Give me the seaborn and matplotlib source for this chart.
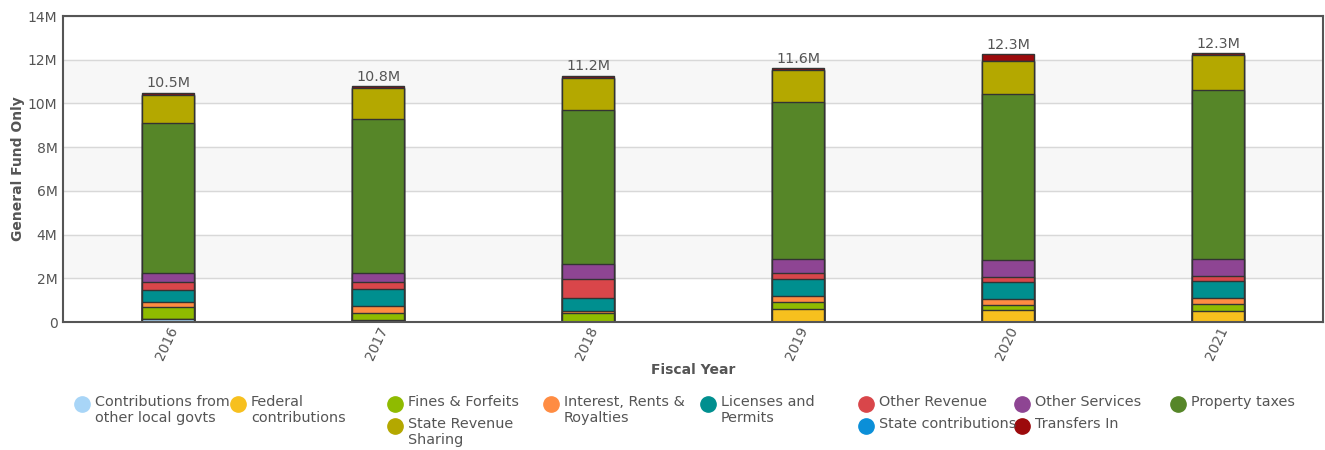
import matplotlib
matplotlib.use("Agg")
import matplotlib.pyplot as plt
import seaborn as sns
import numpy as np
import pandas as pd
from matplotlib.lines import Line2D

sns.set_theme(style="white")
plt.rcParams['font.family'] = ['DejaVu Sans']

years = ["2016", "2017", "2018", "2019", "2020", "2021"]
series_names = ["Contributions from\nother local govts", "Federal\ncontributions", "Fines & Forfeits",
                "Interest, Rents &\nRoyalties", "Licenses and\nPermits", "Other Revenue",
                "Other Services", "Property taxes", "State Revenue\nSharing",
                "State contributions", "Transfers In"]
contrib_local = [0.15, 0.0, 0.0, 0.0, 0.0, 0.0]
federal = [0.0, 0.10, 0.0, 0.58, 0.55, 0.52]
fines = [0.53, 0.33, 0.40, 0.35, 0.23, 0.31]
interest = [0.23, 0.30, 0.10, 0.27, 0.27, 0.29]
licenses = [0.56, 0.80, 0.61, 0.76, 0.79, 0.76]
other_rev = [0.35, 0.29, 0.86, 0.26, 0.23, 0.24]
other_serv = [0.41, 0.43, 0.69, 0.65, 0.76, 0.76]
property_tax = [6.87, 7.03, 7.05, 7.18, 7.58, 7.73]
state_rev_sharing = [1.28, 1.42, 1.46, 1.47, 1.52, 1.60]
state_contrib = [0.0, 0.0, 0.0, 0.0, 0.0, 0.0]
transfers_in = [0.12, 0.09, 0.08, 0.09, 0.32, 0.09]
total_labels = ["10.5M", "10.8M", "11.2M", "11.6M", "12.3M", "12.3M"]
y_ticks = [0, 2, 4, 6, 8, 10, 12, 14]
y_tick_labels = ["0", "2M", "4M", "6M", "8M", "10M", "12M", "14M"]

series = [contrib_local, federal, fines, interest, licenses, other_rev,
          other_serv, property_tax, state_rev_sharing, state_contrib, transfers_in]
colors = ["#a8d5f7", "#f7c01e", "#8fbb00", "#ff8c42", "#008f8f", "#d9464a",
          "#8e4593", "#568628", "#b4a800", "#0b8fd8", "#9c0a0c"]

fig = plt.figure(figsize=(13.25, 4.5), dpi=100)
ax = fig.add_axes([63/1325, 1 - 322/450, 1260/1325, 306/450])

# alternating bands and grid
for lo in (2, 6, 10):
    ax.axhspan(lo, lo + 2, color="#f7f7f7", zorder=0)
for t in y_ticks[1:]:
    ax.axhline(t, color="#d8d8d8", lw=1, zorder=0.5)

cum = np.cumsum(np.array(series), axis=0)
for i in range(len(series) - 1, -1, -1):
    df = pd.DataFrame({"year": years, "val": cum[i]})
    sns.barplot(data=df, x="year", y="val", color=colors[i], width=0.25,
                edgecolor="#333333", linewidth=1, saturation=1, ax=ax, zorder=2)

tot = cum[-1]
for k, lab in enumerate(total_labels):
    ax.text(k, tot[k] + 0.12, lab, ha="center", va="bottom", fontsize=10.3, color="#555555")

ax.set_xlim(-0.5, 5.5)
ax.set_ylim(0, 14)
ax.set_yticks(y_ticks)
ax.set_yticklabels(y_tick_labels, fontsize=10, color="#555555")
ax.set_xticks(range(len(years)))
ax.set_xticklabels(years, rotation=65, ha="right", rotation_mode="anchor", fontsize=10, color="#555555")
ax.tick_params(axis="x", length=0, pad=2)
ax.tick_params(axis="y", length=0, pad=4)
ax.set_xlabel("Fiscal Year", fontsize=10, fontweight="bold", color="#555555", labelpad=0)
ax.set_ylabel("General Fund Only", fontsize=10, fontweight="bold", color="#555555", labelpad=2)
for s in ax.spines.values():
    s.set_color("#555555")
    s.set_linewidth(1.5)

# legend, manual layout
W, H = 1325, 450
col_x = [82, 238, 395, 551, 708, 866, 1022, 1178]
row_y = [404, 426]
placement = [(0, 0), (1, 0), (2, 0), (3, 0), (4, 0), (5, 0), (6, 0), (7, 0),
             (2, 1), (5, 1), (6, 1)]
for i, (c, r) in enumerate(placement):
    mx, my = col_x[c], row_y[r]
    fig.add_artist(Line2D([mx / W], [1 - my / H], marker="o", markersize=11, color=colors[i],
                          linestyle="none", transform=fig.transFigure))
    fig.text((mx + 13) / W, 1 - (my - 9) / H, series_names[i], ha="left", va="top",
             fontsize=10.4, color="#555555", linespacing=1.2)

fig.savefig("out.png", dpi=100)
